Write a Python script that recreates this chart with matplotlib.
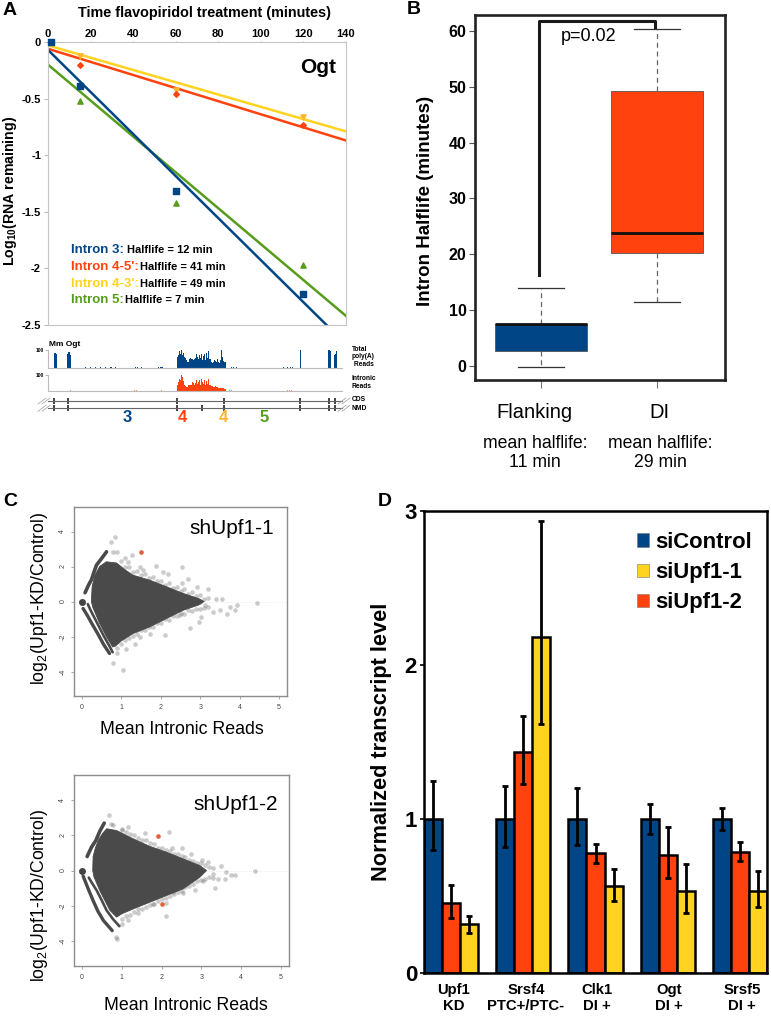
import numpy as np
import matplotlib
matplotlib.use("Agg")
import matplotlib.pyplot as plt
from matplotlib.patches import Patch

plt.rcParams["font.family"] = ["Liberation Sans", "DejaVu Sans"]
plt.rcParams["mathtext.default"] = "regular"

BLUE = "#004586"
ORANGE = "#ff420e"
YELLOW = "#ffd320"
GREEN = "#579d1c"
W, H = 771, 1019

# panel A
fit_x = [0, 140]
fit_intron3 = [-0.07, -2.67]
fit_intron45 = [-0.06, -0.87]
fit_intron43 = [-0.03, -0.79]
fit_intron5 = [-0.20, -2.42]
t_intron3 = [1.5, 15, 60, 120]
y_intron3 = [0, -0.385, -1.32, -2.23]
t_other = [15, 60, 120]
y_intron45 = [-0.20, -0.455, -0.73]
y_intron43 = [-0.12, -0.42, -0.66]
y_intron5 = [-0.52, -1.42, -1.97]

# tracks under panel A, position along the gene and read level
center_pos = np.arange(177, 226)
total_center = [62, 70, 95, 75, 100, 70, 82, 60, 52, 42, 30, 30, 50, 55, 48, 50, 45,
                48, 55, 78, 60, 50, 72, 55, 80, 45, 65, 75, 45, 85, 55, 92, 50, 48,
                30, 28, 35, 45, 40, 32, 48, 30, 28, 45, 100, 60, 40, 35, 30]
intronic_center = [40, 55, 75, 70, 100, 85, 60, 40, 30, 22, 25, 35, 38, 35, 40, 55, 48,
                   40, 50, 68, 45, 55, 70, 40, 72, 55, 45, 68, 40, 62, 45, 72, 40, 35,
                   30, 30, 25, 28, 30, 22, 25, 20, 18, 18, 20, 18, 16, 15, 14]
exon_pos = [54, 55, 56, 67, 68, 69, 70, 300, 328, 329, 330, 334, 335, 336]
exon_total = [85, 85, 80, 75, 88, 90, 70, 100, 100, 100, 95, 70, 80, 95]
low_pos = [85, 90, 95, 100, 105, 110, 111, 115, 135, 137, 141, 158, 160, 162, 161, 231, 233, 236, 283, 287, 290, 292]
low_total = [3, 2, 3, 2, 3, 2, 2, 3, 4, 6, 5, 6, 4, 5, 5, 4, 3, 4, 3, 4, 6, 4]
low2_pos = [70, 110, 134, 136, 161, 229, 231, 277, 287, 289, 291]
low2_intronic = [4, 2, 4, 6, 6, 6, 5, 3, 5, 6, 4]
exons = [54, 68, 177, 224, 300, 329, 335]
nmd_exons = [54, 68, 177, 202, 224, 300, 329, 335]

# panel B
box_stats = [
    dict(whislo=-0.3, q1=2.7, med=7.4, q3=7.5, whishi=13.9, fliers=[]),
    dict(whislo=11.4, q1=20.2, med=23.8, q3=49.2, whishi=60.4, fliers=[]),
]
box_colors = [BLUE, ORANGE]

# panel C, outline of the dense cloud and the points that stand out
c1_cloud_x = [0.24, 0.26, 0.33, 0.45, 0.62, 0.88, 1.10, 1.30, 1.72, 2.15, 2.57, 2.96, 3.10,
              2.96, 2.57, 2.15, 1.72, 1.30, 1.00, 0.85, 0.78, 0.62, 0.44, 0.28]
c1_cloud_y = [0.0, 0.85, 1.50, 2.00, 2.27, 2.20, 1.80, 1.50, 1.22, 0.84, 0.46, 0.17, 0.0,
              -0.20, -0.50, -0.97, -1.45, -1.83, -2.25, -2.55, -2.60, -2.00, -1.20, -0.35]
c1_band_up_x = [0.08, 0.16, 0.245, 0.31, 0.37, 0.50, 0.625]
c1_band_up_y = [0.50, 0.90, 1.26, 1.70, 2.08, 2.46, 2.84]
c1_band_out_x = [0.03, 0.135, 0.25, 0.40, 0.55, 0.70]
c1_band_out_y = [-0.40, -0.78, -1.25, -1.83, -2.45, -2.97]
c1_band_in_x = [0.15, 0.22, 0.38, 0.55, 0.70, 0.78]
c1_band_in_y = [-0.15, -0.50, -1.20, -1.95, -2.55, -2.90]
c1_out_x = [.85, .75, .79, .90, 1.09, 1.26, 1.17, 1.47, 1.56, 1.89, 2.05, 2.19, 2.53, 2.70,
            2.53, 2.91, 3.20, 3.41, 3.54, 3.75, 3.92, 3.88, 3.67, 3.33, 3.03, 2.74, 2.98,
            2.49, 2.10, 1.72, 1.47, 1.34, 1.13, .88, .79, 1.05, 4.43, 3.50, 3.12, 2.99]
c1_out_y = [3.70, 3.41, 2.84, 2.84, 2.46, 2.65, 2.27, 1.98, 1.79, 2.02, 1.70, 1.60, 1.98, 1.26,
            1.03, .84, .69, .17, .17, -.30, -.21, -.50, -.69, -.59, -.88, -1.54, -1.16,
            -.78, -1.92, -1.83, -2.02, -2.40, -2.69, -2.97, -3.54, -3.89, -.08, -.50, -.21, -.02]
c1_edge_x = [1.0, 1.1, 1.2, 1.3, 1.4, 1.5, 1.6, 1.7, 1.8, 1.9, 2.0, 2.1, 2.2, 2.3, 2.4, 2.5, 2.6,
             2.7, 2.8, 2.9, 3.0, 3.1, 3.2, 3.2, 3.1, 3.0, 2.9, 2.8, 2.7, 2.6, 2.5, 2.4, 2.3, 2.2,
             2.1, 2.0, 1.9, 1.8, 1.7, 1.6, 1.5, 1.4, 1.3, 1.2, 1.1, 1.0, .9]
c1_edge_y = [2.3, 2.0, 1.95, 1.7, 1.75, 1.5, 1.55, 1.35, 1.4, 1.15, 1.2, .95, 1.05, .8, .85, .6, .7,
             .45, .55, .3, .35, .15, .2, -.3, -.35, -.45, -.4, -.55, -.5, -.7, -.65, -.85, -.85, -1.05,
             -1.0, -1.25, -1.2, -1.45, -1.45, -1.65, -1.65, -1.85, -1.95, -2.1, -2.2, -2.45, -2.65]
c1_hit_x = [1.50]
c1_hit_y = [2.82]

c2_cloud_x = [0.27, 0.28, 0.34, 0.42, 0.52, 0.62, 0.87, 1.29, 1.71, 2.12, 2.54, 2.96, 3.13,
              2.96, 2.54, 2.12, 1.71, 1.29, 1.00, 0.87, 0.70, 0.45, 0.30]
c2_cloud_y = [0.0, 0.80, 1.30, 1.75, 2.10, 2.36, 2.26, 1.79, 1.36, 1.04, 0.66, 0.28, 0.0,
              -0.38, -1.04, -1.42, -1.79, -2.17, -2.45, -2.64, -2.25, -1.15, -0.35]
c2_band_up_x = [0.13, 0.24, 0.35, 0.45, 0.56]
c2_band_up_y = [0.79, 1.32, 1.70, 2.23, 2.68]
c2_band_out_x = [0.03, 0.15, 0.28, 0.40, 0.54, 0.76]
c2_band_out_y = [-0.32, -1.00, -1.70, -2.30, -2.83, -3.40]
c2_band_in_x = [0.17, 0.25, 0.37, 0.50, 0.62, 0.78, 0.94]
c2_band_in_y = [-0.40, -0.70, -1.13, -1.70, -2.26, -2.75, -3.15]
c2_out_x = [.69, .74, .79, 1.0, 1.16, 1.58, 2.18, 2.25, 2.5, 2.75, 3.02, 3.17, 3.5, 3.29, 3.63,
            3.75, 3.84, 3.42, 3.59, 3.34, 3.04, 2.83, 2.53, 2.29, 2.12, 2.12, 1.79, 1.41, 1.16,
            1.0, .85, .89, 4.34]
c2_out_y = [3.15, 2.64, 2.55, 2.36, 2.45, 2.11, 2.17, 1.28, 1.28, .94, .60, .47, .23, -.19, -.09,
            -.28, -.28, -.47, -.47, -.98, -.6, -1.13, -1.26, -1.23, -1.85, -2.55, -1.89, -2.42, -2.79,
            -3.02, -3.77, -3.9, 0.0]
c2_edge_x = [1.0, 1.1, 1.2, 1.3, 1.4, 1.5, 1.6, 1.7, 1.8, 1.9, 2.0, 2.1, 2.2, 2.3, 2.4, 2.5, 2.6,
             2.7, 2.8, 2.9, 3.0, 3.1, 3.2, 3.3, 3.3, 3.2, 3.1, 3.0, 2.9, 2.8, 2.7, 2.6, 2.5, 2.4,
             2.3, 2.2, 2.1, 2.0, 1.9, 1.8, 1.7, 1.6, 1.5, 1.4, 1.3, 1.2, 1.1, 1.0]
c2_edge_y = [2.3, 2.15, 2.05, 2.0, 1.85, 1.75, 1.75, 1.55, 1.5, 1.3, 1.3, 1.15, 1.1, .95, .95, .8, .75,
             .6, .55, .45, .4, .3, .2, .15, -.4, -.35, -.5, -.55, -.6, -.75, -.85, -.95, -1.15, -1.2,
             -1.35, -1.45, -1.55, -1.6, -1.75, -1.9, -1.95, -2.05, -2.2, -2.2, -2.35, -2.5, -2.6, -2.75]
c2_hit_x = [1.91, 2.02]
c2_hit_y = [1.94, -1.87]

# panel D
genes = ["Upf1\nKD", "Srsf4\nPTC+/PTC-", "Clk1\nDI +", "Ogt\nDI +", "Srsf5\nDI +"]
control = [1, 1, 1, 1, 1]
upf1_2 = [0.455, 1.435, 0.779, 0.768, 0.786]
upf1_1 = [0.316, 2.18, 0.565, 0.532, 0.532]
control_lo = [0.797, 0.818, 0.829, 0.905, 0.926]
control_hi = [1.247, 1.216, 1.20, 1.095, 1.074]
upf1_2_lo = [0.36, 1.229, 0.716, 0.617, 0.727]
upf1_2_hi = [0.57, 1.667, 0.84, 0.948, 0.851]
upf1_1_lo = [0.262, 1.615, 0.468, 0.392, 0.429]
upf1_1_hi = [0.368, 2.935, 0.677, 0.706, 0.662]


def add_ax(l, t, r, b):
    return fig.add_axes([l / W, 1 - b / H, (r - l) / W, (b - t) / H])


fig = plt.figure(figsize=(W / 100, H / 100), dpi=100)

# A
ax = add_ax(48, 42, 346, 325)
ax.plot(fit_x, fit_intron43, color=YELLOW, lw=1.8)
ax.plot(fit_x, fit_intron45, color=ORANGE, lw=1.8)
ax.plot(fit_x, fit_intron5, color=GREEN, lw=1.8)
ax.plot(fit_x, fit_intron3, color=BLUE, lw=1.8)
ax.scatter(t_intron3, y_intron3, marker="s", s=16, color=BLUE, zorder=3, clip_on=False)
ax.scatter(t_other, y_intron43, marker="v", s=14, color="#ffb52e", zorder=3)
ax.scatter(t_other, y_intron45, marker="D", s=8, color=ORANGE, zorder=3)
ax.scatter(t_other, y_intron5, marker="^", s=14, color=GREEN, zorder=3)
ax.set_xlim(0, 140)
ax.set_ylim(-2.5, 0)
ax.xaxis.tick_top()
ax.set_xticks(range(0, 141, 20))
ax.set_yticks([0, -0.5, -1, -1.5, -2, -2.5])
ax.set_yticklabels(["0", "-0.5", "-1", "-1.5", "-2", "-2.5"])
ax.tick_params(axis="y", labelsize=8, length=3, width=0.8, color="#bbbbbb", pad=2)
ax.tick_params(axis="x", labelsize=8, length=1, width=0.8, color="#bbbbbb", pad=1.5)
for lab in ax.get_xticklabels() + ax.get_yticklabels():
    lab.set_fontweight("bold")
for s in ax.spines.values():
    s.set_color("#c4c4c4")

# tracks
ax = add_ax(48, 350, 342, 367.7)
ax.bar(center_pos, total_center, width=1, color=BLUE)
ax.bar(exon_pos, exon_total, width=1, color=BLUE)
ax.bar(low_pos, low_total, width=1, color=BLUE)
ax.set_xlim(48, 342)
ax.set_ylim(0, 100)
ax.set_xticks([])
ax.set_yticks([100])
ax.tick_params(labelsize=3.5, length=2, width=0.5, color="#999999", pad=1)
for lab in ax.get_yticklabels():
    lab.set_fontweight("bold")
for k in ["top", "right"]:
    ax.spines[k].set_visible(False)
ax.spines["bottom"].set_color("#bbbbbb")
ax.spines["left"].set_color("#bbbbbb")

ax = add_ax(48, 375, 342, 391)
ax.bar(center_pos, intronic_center, width=1, color=ORANGE)
ax.bar(low2_pos, low2_intronic, width=1, color=ORANGE, alpha=0.6)
ax.set_xlim(48, 342)
ax.set_ylim(0, 100)
ax.set_xticks([])
ax.set_yticks([100])
ax.tick_params(labelsize=3.5, length=2, width=0.5, color="#999999", pad=1)
for lab in ax.get_yticklabels():
    lab.set_fontweight("bold")
for k in ["top", "right"]:
    ax.spines[k].set_visible(False)
ax.spines["bottom"].set_color("#bbbbbb")
ax.spines["left"].set_color("#bbbbbb")

# B
ax = add_ax(475, 15, 725, 380)
bp = ax.bxp(box_stats, positions=[1, 2], widths=0.8, capwidths=0.4, patch_artist=True,
            boxprops=dict(linewidth=0.6, edgecolor="#555555"),
            medianprops=dict(color="#111111", linewidth=2),
            whiskerprops=dict(color="#666666", linewidth=0.9, linestyle=(0, (4, 3))),
            capprops=dict(color="#333333", linewidth=0.9))
for b, c in zip(bp["boxes"], box_colors):
    b.set_facecolor(c)
ax.plot([0.98, 0.98, 1.98, 1.98], [16.2, 61.9, 61.9, 60.7], color="#1a1a1a", lw=2.2,
        solid_joinstyle="round")
ax.set_xlim(0.431, 2.586)
ax.set_ylim(-2.57, 62.9)
ax.set_yticks(range(0, 61, 10))
ax.set_xticks([1, 2])
ax.set_xticklabels([])
ax.tick_params(axis="y", labelsize=11.5, length=4, width=0.8, color="#555555", pad=2)
ax.tick_params(axis="x", length=6, width=0.8, color="#777777")
for lab in ax.get_yticklabels():
    lab.set_fontweight("bold")
for s in ax.spines.values():
    s.set_linewidth(1.9)
    s.set_color("#222222")

# C
panels = [
    (add_ax(74, 507, 287, 696), c1_cloud_x, c1_cloud_y, c1_band_up_x, c1_band_up_y, c1_band_out_x,
     c1_band_out_y, c1_band_in_x, c1_band_in_y, c1_out_x + c1_edge_x, c1_out_y + c1_edge_y, c1_hit_x, c1_hit_y),
    (add_ax(74, 775, 289, 966), c2_cloud_x, c2_cloud_y, c2_band_up_x, c2_band_up_y, c2_band_out_x,
     c2_band_out_y, c2_band_in_x, c2_band_in_y, c2_out_x + c2_edge_x, c2_out_y + c2_edge_y, c2_hit_x, c2_hit_y),
]
for ax, cx, cy, ux, uy, ox, oy, ix, iy, px, py, hx, hy in panels:
    ax.axhline(0, color="#e4e4e4", lw=0.6, ls=":", zorder=0)
    ax.fill(cx, cy, color="#4a4a4a", ec="#4a4a4a", lw=0.6, zorder=2)
    ax.plot(ux, uy, color="#4a4a4a", lw=2.6, solid_capstyle="round", solid_joinstyle="round", zorder=2)
    ax.plot(ox, oy, color="#4a4a4a", lw=2.4, solid_capstyle="round", solid_joinstyle="round", zorder=2)
    ax.plot(ix, iy, color="#4a4a4a", lw=1.9, solid_capstyle="round", solid_joinstyle="round", zorder=2)
    ax.scatter([0], [0], s=16, color="#444444", zorder=2)
    ax.scatter(px, py, s=11, color="#555555", alpha=0.3, linewidths=0, zorder=1)
    ax.scatter(hx, hy, s=11, color="#e0603a", linewidths=0, zorder=3)
    ax.set_xlim(-0.2, 5.2)
    ax.set_ylim(-5.4, 5.4)
    ax.set_xticks(range(6))
    ax.set_yticks([-4, -2, 0, 2, 4])
    ax.set_yticklabels(["-4", "-2", "0", "2", "4"], rotation=90, va="center")
    ax.tick_params(labelsize=5, length=2.5, width=0.5, color="#888888", labelcolor="#444444", pad=3)
    for s in ax.spines.values():
        s.set_color("#8c8c8c")
        s.set_linewidth(1)

# D
ax = add_ax(424, 511, 767, 973)
x = np.arange(5) * 4 + 0.5
ekw = dict(elinewidth=2, ecolor="black", capsize=2, capthick=2)
ax.bar(x, control, width=1, color=BLUE, edgecolor="black", lw=1.8,
       yerr=[np.array(control) - control_lo, np.array(control_hi) - control], error_kw=ekw)
ax.bar(x + 1, upf1_2, width=1, color=ORANGE, edgecolor="black", lw=1.8,
       yerr=[np.array(upf1_2) - upf1_2_lo, np.array(upf1_2_hi) - upf1_2], error_kw=ekw)
ax.bar(x + 2, upf1_1, width=1, color=YELLOW, edgecolor="black", lw=1.8,
       yerr=[np.array(upf1_1) - upf1_1_lo, np.array(upf1_1_hi) - upf1_1], error_kw=ekw)
ax.set_xlim(0, 19)
ax.set_ylim(0, 3)
ax.set_yticks([0, 1, 2, 3])
ax.set_xticks([])
ax.tick_params(axis="y", labelsize=16, length=3, width=1.2, pad=2)
for lab in ax.get_yticklabels():
    lab.set_fontweight("bold")
for s in ax.spines.values():
    s.set_linewidth(1.8)
handles = [Patch(fc=BLUE, ec="#777777", lw=0.4), Patch(fc=YELLOW, ec="#777777", lw=0.4),
           Patch(fc=ORANGE, ec="#777777", lw=0.4)]
ax.legend(handles, ["siControl", "siUpf1-1", "siUpf1-2"], frameon=False, loc="upper left",
          bbox_to_anchor=(0.621, 0.955), prop=dict(weight="bold", size=15.8), handlelength=0.55,
          handleheight=0.55, handletextpad=0.27, labelspacing=0.42, borderpad=0, borderaxespad=0)

# all loose text, in picture pixels
ov = fig.add_axes([0, 0, 1, 1])
ov.set_xlim(0, W)
ov.set_ylim(H, 0)
ov.axis("off")

for s, tx, ty in [("A", 3, 10), ("B", 407, 9), ("C", 3, 502), ("D", 378, 502)]:
    ov.text(tx, ty, s, fontsize=14, fontweight="bold", ha="left", va="center")

ov.text(204, 13, "Time flavopiridol treatment (minutes)", fontsize=10.4, fontweight="bold", ha="center", va="center")
ov.text(10, 191, "Log$_{10}$(RNA remaining)", fontsize=10.2, fontweight="bold", rotation=90, ha="center", va="center")
ov.text(318, 67, "Ogt", fontsize=15, fontweight="bold", ha="center", va="center")
intron_rows = [("Intron 3:", BLUE, "Halflife = 12 min", 127, 250), ("Intron 4-5':", ORANGE, "Halflife = 41 min", 140, 267),
               ("Intron 4-3':", YELLOW, "Halflife = 49 min", 140, 284), ("Intron 5:", GREEN, "Halflife = 7 min", 125, 300)]
for name, col, hl, hx, ty in intron_rows:
    ov.text(71, ty, name, color=col, fontsize=9.5, fontweight="bold", ha="left", va="center")
    ov.text(hx, ty, hl, fontsize=8, fontweight="bold", ha="left", va="center")

ov.text(49, 344, "Mm Ogt", fontsize=6, fontweight="bold", ha="left", va="center")
ov.text(352, 357, "Total\npoly(A)\n Reads", fontsize=4.8, fontweight="bold", ha="left", va="center", linespacing=1.1)
ov.text(352, 382, "Intronic\nReads", fontsize=4.8, fontweight="bold", ha="left", va="center", linespacing=1.2)
ov.text(352, 399.5, "CDS", fontsize=4.8, fontweight="bold", ha="left", va="center")
ov.text(352, 408.5, "NMD", fontsize=4.8, fontweight="bold", ha="left", va="center")
for yy, ex in [(401, exons), (408.3, nmd_exons)]:
    ov.plot([48, 342], [yy, yy], color="#666666", lw=0.8)
    ov.scatter(ex, [yy] * len(ex), marker="|", s=14, lw=1.3, color="#333333")
    for x0 in [42, 46, 342, 346]:
        ov.plot([x0 - 4, x0 + 4], [yy + 3, yy - 3], color="#999999", lw=0.5)
for s, col, tx in [("3", BLUE, 127), ("4", ORANGE, 182), ("4", "#ffb52e", 223), ("5", GREEN, 264)]:
    ov.text(tx, 417, s, color=col, fontsize=12, fontweight="bold", ha="center", va="center")

ov.text(426, 201, "Intron Halflife (minutes)", fontsize=13.5, fontweight="bold", rotation=90, ha="center", va="center")
ov.text(589, 36, "p=0.02", fontsize=13, ha="center", va="center")
ov.text(534, 412, "Flanking", fontsize=14.5, ha="center", va="center")
ov.text(659, 412, "DI", fontsize=14.5, ha="center", va="center")
ov.text(535, 453, "mean halflife:\n11 min", fontsize=12.7, ha="center", va="center", linespacing=1.1)
ov.text(660, 453, "mean halflife:\n29 min", fontsize=12.7, ha="center", va="center", linespacing=1.1)

ov.text(232, 529, "shUpf1-1", fontsize=15, ha="center", va="center")
ov.text(236, 804, "shUpf1-2", fontsize=15, ha="center", va="center")
ov.text(40, 598, "log$_2$(Upf1-KD/Control)", fontsize=12.7, rotation=90, ha="center", va="center")
ov.text(40, 895, "log$_2$(Upf1-KD/Control)", fontsize=12.7, rotation=90, ha="center", va="center")
ov.text(182, 729, "Mean Intronic Reads", fontsize=12.8, ha="center", va="center")
ov.text(186, 1006, "Mean Intronic Reads", fontsize=12.8, ha="center", va="center")

ov.text(382, 742, "Normalized transcript level", fontsize=15.7, fontweight="bold", rotation=90, ha="center", va="center")
for g, tx in zip(genes, [454, 526, 597, 669, 742]):
    ov.text(tx, 998, g, fontsize=10.7, fontweight="bold", ha="center", va="center", linespacing=1.15)

fig.savefig("out.png", dpi=100)
